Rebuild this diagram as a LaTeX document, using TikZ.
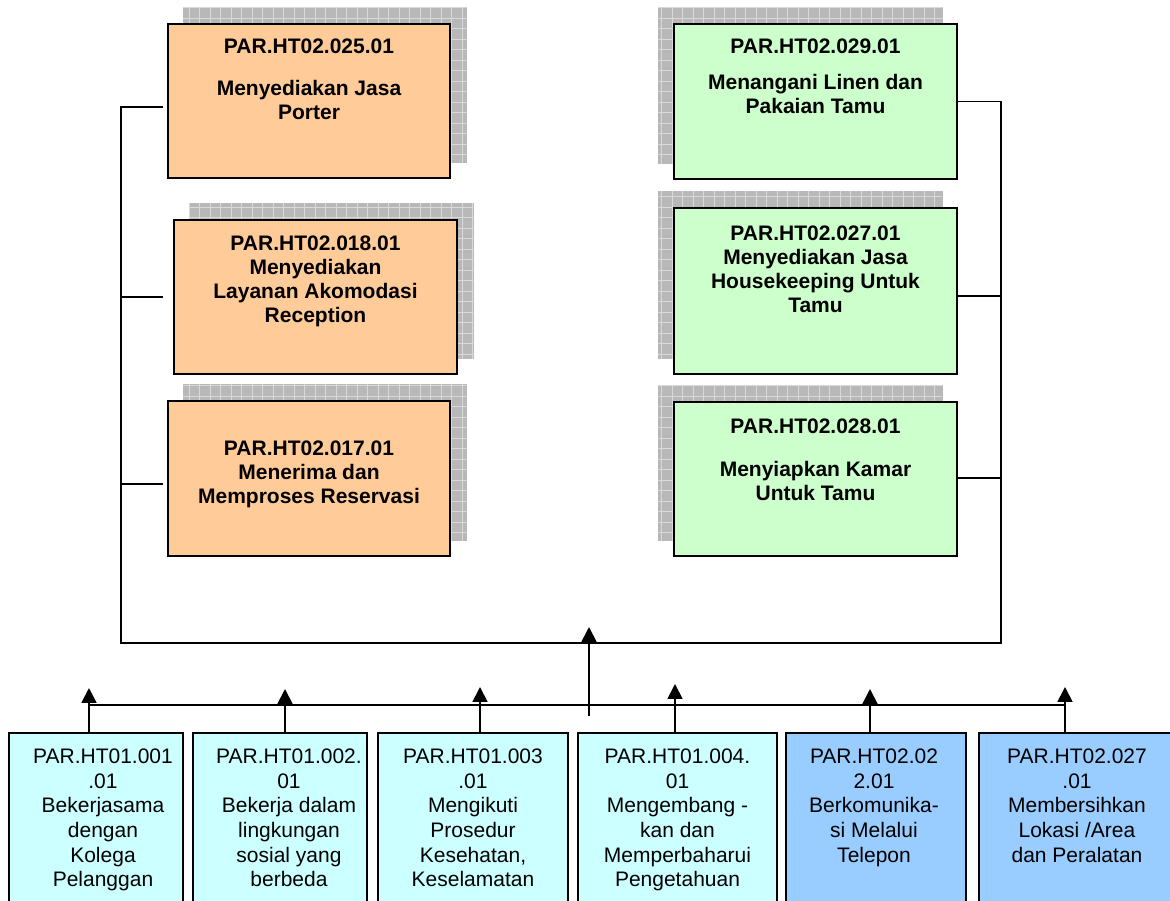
\documentclass[tikz,border=0pt]{standalone}
\usepackage{fontspec}
\setmainfont{Liberation Sans}
\usetikzlibrary{positioning,arrows.meta,backgrounds}

\definecolor{oranye}{HTML}{FFCC99}
\definecolor{hijau}{HTML}{CCFFCC}
\definecolor{toska}{HTML}{CCFFFF}
\definecolor{biru}{HTML}{99CCFF}
\definecolor{bayang}{HTML}{B8B8B8}
\definecolor{kisi}{HTML}{D9D9D9}

\tikzset{
  kotak/.style={draw=black, line width=2pt, inner sep=0pt},
  judul/.style={font=\fontsize{21}{24}\selectfont\bfseries, align=center, inner sep=0pt},
  isi/.style={font=\fontsize{21}{24.7}\selectfont, align=center, inner sep=0pt},
  garis/.style={line width=1.8pt},
  panah/.style={line width=1.8pt, -{Triangle[length=15pt,width=15pt]}}
}

\begin{document}
\begin{tikzpicture}[x=1pt,y=1pt]
\useasboundingbox (0,0) rectangle (1170,900);
\clip (0,0) rectangle (1170,900);

% Unit kompetensi inti (kiri, oranye)
\node[kotak, fill=oranye, minimum width=282pt, minimum height=154pt] (o1) at (309,799) {};
\node[kotak, fill=oranye, minimum width=283pt, minimum height=154pt] (o2) at (315.5,603) {};
\node[kotak, fill=oranye, minimum width=282pt, minimum height=155pt] (o3) at (309,421.5) {};

% Unit kompetensi inti (kanan, hijau)
\node[kotak, fill=hijau, minimum width=283pt, minimum height=155pt] (g1) at (815.5,798.5) {};
\node[kotak, fill=hijau, minimum width=283pt, minimum height=166pt] (g2) at (815.5,609) {};
\node[kotak, fill=hijau, minimum width=283pt, minimum height=154pt] (g3) at (815.5,421) {};

% Bayangan berkisi di belakang kotak
\begin{scope}[on background layer]
\foreach \k/\dx in {o1/15.5, o2/15.5, o3/15.5, g1/-15.5, g2/-15.5, g3/-15.5}{
  \fill[bayang] ([shift={(\dx,16)}]\k.south west) rectangle ([shift={(\dx,16)}]\k.north east);
  \begin{scope}
    \clip ([shift={(\dx,16)}]\k.south west) rectangle ([shift={(\dx,16)}]\k.north east);
    \draw[kisi, line width=0.6pt, step=10.5pt]
      ([shift={(\dx,16)}]\k.south west) grid ([shift={(\dx,16)}]\k.north east);
  \end{scope}
}
\end{scope}

% Teks kotak atas
\node[judul, below=16pt of o1.north] (to1) {PAR.HT02.025.01\\[18pt] Menyediakan Jasa\\ Porter};
\node[judul, below=16.2pt of o2.north] (to2) {PAR.HT02.018.01\\ Menyediakan\\ Layanan Akomodasi\\ Reception};
\node[judul, below=41pt of o3.north] (to3) {PAR.HT02.017.01\\ Menerima dan\\ Memproses Reservasi};
\node[judul, below=15.2pt of g1.north] (tg1) {PAR.HT02.029.01\\[12.6pt] Menangani Linen dan\\ Pakaian Tamu};
\node[judul, below=18.3pt of g2.north] (tg2) {PAR.HT02.027.01\\ Menyediakan Jasa\\ Housekeeping Untuk\\ Tamu};
\node[judul, below=17.2pt of g3.north] (tg3) {PAR.HT02.028.01\\[19pt] Menyiapkan Kamar\\ Untuk Tamu};

% Unit kompetensi dasar (bawah)
\node[kotak, fill=toska, minimum width=174pt, minimum height=180pt] (b1) at (96,77) {};
\node[kotak, fill=toska, minimum width=174pt, minimum height=180pt] (b2) at (280,77) {};
\node[kotak, fill=toska, minimum width=190pt, minimum height=180pt] (b3) at (473,77) {};
\node[kotak, fill=toska, minimum width=199pt, minimum height=180pt] (b4) at (677.5,77) {};
\node[kotak, fill=biru, minimum width=180pt, minimum height=180pt] (b5) at (876,77) {};
\node[kotak, fill=biru, minimum width=201pt, minimum height=180pt] (b6) at (1079.5,77) {};

\node[isi, below=16.5pt of b1.north, xshift=7pt] (tb1) {PAR.HT01.001\\ .01\\ Bekerjasama\\ dengan\\ Kolega\\ Pelanggan};
\node[isi, below=16.5pt of b2.north, xshift=9pt] (tb2) {PAR.HT01.002.\\ 01\\ Bekerja dalam\\ lingkungan\\ sosial yang\\ berbeda};
\node[isi, below=16.5pt of b3.north] (tb3) {PAR.HT01.003\\ .01\\ Mengikuti\\ Prosedur\\ Kesehatan,\\ Keselamatan};
\node[isi, below=16.5pt of b4.north] (tb4) {PAR.HT01.004.\\ 01\\ Mengembang -\\ kan dan\\ Memperbaharui\\ Pengetahuan};
\node[isi, below=16.5pt of b5.north, xshift=-2pt] (tb5) {PAR.HT02.02\\ 2.01\\ Berkomunika-\\ si Melalui\\ Telepon};
\node[isi, below=16.5pt of b6.north, xshift=-2.5pt] (tb6) {PAR.HT02.027\\ .01\\ Membersihkan\\ Lokasi /Area\\ dan Peralatan};

% Garis penghubung kotak atas
\coordinate (kiri) at (121,257);
\coordinate (kanan) at (1001,257);
\draw[garis] ([xshift=-4pt,yshift=-6pt]o1.west) -| (kiri) -- (kanan) |- (g1.east);
\draw[garis] ([xshift=-10pt]o2.west) -- (o2.west -| kiri);
\draw[garis] ([xshift=-4pt,yshift=-5.5pt]o3.west) -- ([yshift=-5.5pt]o3.west -| kiri);
\draw[garis] ([yshift=-5pt]g2.east) -- ([yshift=-5pt]g2.east -| kanan);
\draw[garis] ([yshift=1pt]g3.east) -- ([yshift=1pt]g3.east -| kanan);

% Garis penghubung kotak bawah dan panah
\coordinate (bawahkiri) at (89,195);
\coordinate (bawahkanan) at (1065,195);
\coordinate (pusat) at (589,184);
\draw[garis] (bawahkiri) -- (bawahkanan);
\draw[panah] (pusat) -- ([yshift=16pt]pusat |- kiri);
\draw[panah] ([xshift=-7pt]b1.north) -- ++(0,44);
\draw[panah] ([xshift=5pt]b2.north) -- ++(0,43);
\draw[panah] ([xshift=7pt]b3.north) -- ++(0,45);
\draw[panah] ([xshift=-2.5pt]b4.north) -- ++(0,48);
\draw[panah] ([xshift=-6pt]b5.north) -- ++(0,43);
\draw[panah] ([xshift=-14.5pt]b6.north) -- ++(0,45);
\end{tikzpicture}
\end{document}
